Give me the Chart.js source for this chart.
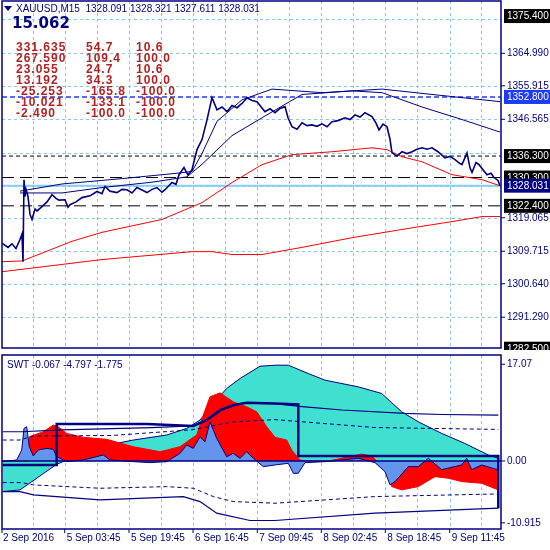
<!DOCTYPE html>
<html>
<head>
<meta charset="utf-8">
<script src="https://cdn.jsdelivr.net/npm/chart.js@4.4.1/dist/chart.umd.min.js"></script>
<style>
  body { margin: 0; background: #fff; }
  .pane { position: absolute; left: 0; width: 550px; }
  #top { top: 0; height: 350px; }
  #bot { top: 350px; height: 200px; }
</style>
</head>
<body>
<div class="pane" id="top"><canvas id="priceChart" width="550" height="350"></canvas></div>
<div class="pane" id="bot"><canvas id="swtChart" width="550" height="200"></canvas></div>
<script>
// =========================
// Data (x = bar offset along the time axis)
// =========================
const timeLabels = ["2 Sep 2016", "5 Sep 03:45", "5 Sep 19:45", "6 Sep 16:45", "7 Sep 09:45", "8 Sep 02:45", "8 Sep 18:45", "9 Sep 11:45"];
const timeLabelPos = [0, 62.7, 127, 191, 255.3, 319.3, 383.3, 447.7];
const timeGrid = [31, 62.7, 95, 127, 159.3, 191, 222.7, 255.3, 287, 319.3, 351, 383.3, 415.3, 447.7, 479.3];

const price = [[0,1312],[6,1310.8],[10,1311.8],[14,1310.5],[18,1313],[20,1314.5],[21,1306.8],[22,1329.7],[23,1325],[24,1327],[26,1325],[28,1320],[30,1318.6],[33,1321.5],[35,1321],[40,1322.2],[45,1323.5],[50,1325.5],[54,1324.5],[57,1324],[63,1324.1],[66,1322],[68,1322.7],[74,1323.5],[80,1324.7],[88,1325.2],[95,1326.4],[100,1325.8],[103,1327.8],[108,1326.5],[115,1326.1],[120,1327],[125,1326.9],[130,1326],[135,1327.5],[140,1326.8],[145,1326.1],[150,1327],[155,1327.5],[160,1326.2],[163,1326.9],[170,1328.9],[174,1328.4],[177,1331.1],[182,1333.1],[186,1331],[190,1332.5],[195,1338.1],[200,1340.9],[205,1346.4],[210,1352.6],[215,1349.2],[220,1350],[225,1348.7],[230,1350.4],[235,1349.8],[240,1351],[245,1352.6],[250,1351.8],[255,1351.5],[263,1348.7],[268,1349.5],[273,1348.4],[278,1349.6],[283,1350.1],[286,1347],[290,1344.5],[295,1343.8],[300,1345.6],[305,1344.8],[310,1345.0],[315,1344.6],[320,1345.3],[325,1344.5],[330,1345.9],[336,1346.2],[343,1347.0],[348,1346.5],[353,1347.8],[358,1347.2],[363,1348.4],[370,1347.3],[374,1345.5],[377,1343.6],[381,1345.2],[385,1344.5],[388,1341],[390,1337.2],[395,1336.3],[400,1337.5],[405,1337],[410,1337.5],[415,1338.2],[420,1338.6],[425,1338.2],[430,1338.6],[436,1337.5],[443,1335.8],[448,1336.2],[453,1335.3],[458,1334.2],[460,1333.9],[465,1337.2],[468,1333],[470,1331.7],[474,1334.5],[477,1333.9],[481,1332.5],[485,1331.1],[489,1331.5],[492,1330.3],[496,1329.5],[498,1328.0]];
const maFast = [[18,1326.5],[60,1328.5],[120,1330],[175,1331.5],[190,1332],[200,1337],[215,1346],[240,1352],[270,1355],[320,1354],[380,1355],[430,1353.5],[498,1351.5]];
const maSlow = [[18,1326],[60,1326],[100,1327.5],[150,1329],[185,1330.5],[200,1334],[230,1342],[260,1347],[300,1353.5],[350,1354.5],[380,1354],[420,1350],[460,1346.5],[498,1343]];
const redUpper = [[0,1306.8],[20,1307],[70,1312.5],[100,1315],[160,1318.6],[200,1323.3],[230,1328.9],[260,1333.9],[290,1336.7],[330,1337.5],[370,1338.6],[385,1338.1],[400,1336.1],[420,1334.7],[450,1331.1],[480,1329.7],[498,1328]];
const redLower = [[0,1304.0],[100,1307.4],[190,1309.6],[210,1309.6],[230,1308.8],[260,1308.8],[300,1310.8],[350,1313.5],[400,1315.8],[450,1318],[480,1319.4],[498,1319.4]];
const levelValues = [1352.8, 1336.3, 1330.3, 1328.031, 1322.4];
const priceTicks = [1364.990, 1355.915, 1346.565, 1319.065, 1309.715, 1300.640, 1291.290];
const priceGrid = [1374.6, 1364.99, 1355.915, 1346.565, 1337.215, 1327.865, 1319.065, 1309.715, 1300.64, 1291.29];
const boxedLabels = [[1375.4, "#000"], [1352.8, "#1e3cff"], [1336.3, "#000"], [1330.3, "#000"], [1328.031, "#000080"], [1322.4, "#000"], [1282.5, "#000"]];

const statRows = [
  ["331.635", "54.7", "10.6"],
  ["267.590", "109.4", "100.0"],
  ["23.055", "24.7", "10.6"],
  ["13.192", "34.3", "100.0"],
  ["-25.253", "-165.8", "-100.0"],
  ["-10.021", "-133.1", "-100.0"],
  ["-2.490", "-100.0", "-100.0"],
];

const swtBlue = [[0.7,-0.12],[14.7,0.18],[19.7,1.94],[22,5.75],[24.7,6.04],[27.3,2.52],[31.3,0.88],[36.3,1.94],[44.7,2.23],[51.3,2.05],[54.7,0.76],[64.7,-0.12],[81.3,0.18],[101.3,1.06],[108,0.18],[131.3,-0.12],[148,-0.29],[164.7,-0.12],[178,1.35],[184.7,2.82],[191.3,2.23],[198,4.28],[203,3.4],[208,6.92],[214.7,3.99],[224.7,0.76],[231.3,1.35],[238,0.47],[244.7,1.64],[251.3,0.47],[261.3,-1.0],[273,-0.7],[286.3,-0.41],[291.3,-2.17],[296.3,-2.17],[303,-0.29],[323,-0.12],[356.3,0.47],[373,-0.29],[383,-1.88],[388,-4.22],[393,-3.64],[406.3,-1.0],[416.3,-1.0],[426.3,0.47],[439.7,-1.53],[459.7,-0.7],[464.7,0.47],[469.7,-1.53],[479.7,-0.7],[496.3,-1.58]];
const swtRed = [[0.7,0],[25,0],[26.3,1.94],[27.3,4.28],[41.3,5.16],[51.3,6.34],[56.3,6.04],[64.7,4.87],[81.3,4.17],[104.7,3.82],[131.3,2.52],[158,1.64],[178,2.52],[189.7,3.99],[194.7,4.58],[201.3,8.1],[208,11.32],[218,12.02],[231.3,10.44],[244.7,9.56],[254.7,8.68],[264.7,6.04],[273,4.17],[284.7,3.7],[289.7,1.94],[298,0.18],[303,0],[326.3,0],[339.7,0.47],[359.7,1.23],[369.7,0.88],[374.7,0],[383,-0.7],[389.7,-4.52],[399.7,-5.1],[416.3,-4.52],[433,-2.76],[446.3,-3.05],[459.7,-3.64],[479.7,-3.93],[496.3,-5.1]];
const swtCyan = [[0.7,-5.4],[18,-5.1],[54.7,-0.58],[98,2.52],[131.3,3.7],[164.7,4.58],[184.7,5.75],[198,7.22],[211.3,10.15],[224.7,12.8],[238,14.55],[258,16.72],[273,16.9],[286.3,16.9],[306.3,15.43],[323,14.26],[356.3,13.08],[379.7,11.91],[399.7,8.68],[416.3,6.92],[439.7,4.87],[462.7,3.11],[486.3,1.06],[496.3,0.47]];
const swtStep = [[0.7,-0.7],[54.7,-0.7],[54.7,6.51],[144.7,6.51],[191.3,6.16],[204.7,7.22],[218,8.98],[231.3,9.86],[244.7,10.27],[273,10.15],[296.3,9.98],[296.3,0.88],[496.3,0.88],[496.3,-8.33]];
const swtUpper = [[0.7,5.16],[19.7,5.16],[60,5.5],[150,5.9],[190,6.2],[205,7.2],[220,9],[240,10.2],[273,10.1],[300,9.6],[340,9.0],[403,8.4],[440,8.2],[496.3,8.1]];
const swtUpperDash = [[0.7,3.7],[18,3.7],[31,4.4],[110,4.5],[190,5.5],[231,6.9],[273,7.3],[373,5.9],[496.3,5.57]];
const swtLowerDash = [[0.7,-3.81],[19.7,-3.81],[31.3,-4.22],[98,-4.81],[164.7,-4.52],[191.3,-4.81],[211.3,-6.28],[231.3,-7.16],[273,-7.45],[373,-6.28],[496.3,-5.81]];
const swtLower = [[0.7,-5.4],[18,-5.4],[31.3,-5.98],[98,-6.86],[181.3,-6.28],[198,-7.16],[214.7,-9.2],[248,-10.5],[273,-10.5],[373,-9.2],[496.3,-8.33]];
const swtTicks = [[17.07, "17.07"], [0, "0.00"], [-10.915, "-10.915"]];

const NAVY = "#000080";
const GRID = "#87c6ee";
const FONT = "10px 'Liberation Sans', Arial, sans-serif";

const pts = (arr) => arr.map(([x, y]) => ({ x, y }));
const flat = (v) => [{ x: 0, y: v }, { x: 499, y: v }];

function line(data, color, width, extra) {
  return Object.assign({ data: pts(data), borderColor: color, borderWidth: width, pointRadius: 0, tension: 0, fill: false }, extra || {});
}

// =========================
// Shared frame plugin (grid, border, right labels)
// =========================
function framePlugin(opts) {
  return {
    id: "frame",
    beforeDatasetsDraw(chart) {
      const { ctx, chartArea: a, scales } = chart;
      ctx.save();
      ctx.strokeStyle = GRID;
      ctx.lineWidth = 1;
      ctx.setLineDash([3, 3]);
      timeGrid.forEach((t) => {
        const x = Math.round(scales.x.getPixelForValue(t)) + 0.5;
        ctx.beginPath(); ctx.moveTo(x, a.top); ctx.lineTo(x, a.bottom); ctx.stroke();
      });
      (opts.hGrid || []).forEach((v) => {
        const y = Math.round(scales.y.getPixelForValue(v)) + 0.5;
        ctx.beginPath(); ctx.moveTo(a.left, y); ctx.lineTo(a.right, y); ctx.stroke();
      });
      ctx.restore();
    },
    afterDraw(chart) {
      const { ctx, chartArea: a, scales } = chart;
      ctx.save();
      ctx.strokeStyle = NAVY;
      ctx.lineWidth = 1.5;
      ctx.strokeRect(a.left, a.top, a.right - a.left, a.bottom - a.top);
      ctx.font = FONT;
      ctx.textBaseline = "middle";
      ctx.fillStyle = NAVY;
      ctx.lineWidth = 1;
      (opts.ticks || []).forEach(([v, txt]) => {
        const y = scales.y.getPixelForValue(v);
        ctx.beginPath(); ctx.moveTo(a.right, y); ctx.lineTo(a.right + 4, y); ctx.stroke();
        ctx.fillText(txt, a.right + 6, y);
      });
      (opts.boxes || []).forEach(([v, bg]) => {
        const y = scales.y.getPixelForValue(v);
        ctx.fillStyle = bg;
        ctx.fillRect(a.right + 3, y - 7, 46, 14);
        ctx.fillStyle = "#fff";
        ctx.fillText(v.toFixed(3), a.right + 6, y + 0.5);
      });
      if (opts.timeAxis) {
        ctx.fillStyle = NAVY;
        ctx.textBaseline = "top";
        timeLabels.forEach((txt, i) => {
          const x = scales.x.getPixelForValue(timeLabelPos[i]);
          ctx.beginPath(); ctx.moveTo(x, a.bottom); ctx.lineTo(x, a.bottom + 4); ctx.stroke();
          ctx.fillText(txt, x + (i === 0 ? 1 : 2), a.bottom + 4);
        });
      }
      if (opts.overlay) opts.overlay(ctx, a);
      ctx.restore();
    },
  };
}

function baseOptions(yMin, yMax, padding) {
  return {
    responsive: false,
    animation: false,
    layout: { padding },
    plugins: { legend: { display: false }, tooltip: { enabled: false } },
    scales: {
      x: { type: "linear", min: 0, max: 499, display: false },
      y: { type: "linear", min: yMin, max: yMax, display: false },
    },
  };
}

// =========================
// Price panel
// =========================
function renderPriceChart() {
  const ctx = document.getElementById("priceChart").getContext("2d");
  new Chart(ctx, {
    type: "line",
    data: {
      datasets: [
        line(price, NAVY, 1.6),
        line(maFast, NAVY, 1),
        line(maSlow, NAVY, 1),
        line(redUpper, "#ff0000", 1),
        line(redLower, "#ff0000", 1),
        { data: flat(levelValues[0]), borderColor: "#1e3cff", borderWidth: 1.5, borderDash: [5, 3], pointRadius: 0 },
        { data: flat(levelValues[1]), borderColor: "#000", borderWidth: 1, borderDash: [4, 3], pointRadius: 0 },
        { data: flat(levelValues[2]), borderColor: "#000", borderWidth: 1, borderDash: [12, 6], pointRadius: 0 },
        { data: flat(levelValues[3]), borderColor: "#87cefa", borderWidth: 2, pointRadius: 0 },
        { data: flat(levelValues[4]), borderColor: "#000", borderWidth: 1, borderDash: [12, 6], pointRadius: 0 },
      ],
    },
    options: baseOptions(1282.7, 1379.6, { left: 2, right: 49, top: 1, bottom: 2 }),
    plugins: [framePlugin({
      hGrid: priceGrid,
      ticks: priceTicks.map((v) => [v, v.toFixed(3)]),
      boxes: boxedLabels,
      overlay(c, a) {
        c.fillStyle = NAVY;
        c.beginPath(); c.moveTo(4, 6); c.lineTo(12, 6); c.lineTo(8, 11); c.closePath(); c.fill();
        c.font = FONT;
        c.textBaseline = "middle";
        c.fillText("XAUUSD,M15  1328.091 1328.321 1327.611 1328.031", 16, 9);
        c.font = "bold 15px 'DejaVu Sans', sans-serif";
        c.textBaseline = "top";
        c.fillText("15.062", 12, 17);
        c.font = "bold 12px 'Liberation Sans', Arial, sans-serif";
        c.letterSpacing = "1px";
        c.fillStyle = "#b22222";
        statRows.forEach((row, i) => {
          const y = 42 + i * 10.9;
          c.fillText(row[0], 16, y);
          c.fillText(row[1], 86, y);
          c.fillText(row[2], 136, y);
        });
        c.letterSpacing = "0px";
      },
    })],
  });
}

// =========================
// SWT panel
// =========================
function renderSwtChart() {
  const ctx = document.getElementById("swtChart").getContext("2d");
  new Chart(ctx, {
    type: "line",
    data: {
      datasets: [
        line([[0, 0], [499, 0]], NAVY, 1.5, { order: 0 }),
        line(swtStep, NAVY, 2.5, { order: 0 }),
        line(swtUpper, NAVY, 1.2, { order: 0 }),
        line(swtLower, NAVY, 1.2, { order: 0 }),
        line(swtUpperDash, NAVY, 1, { order: 0, borderDash: [4, 3] }),
        line(swtLowerDash, NAVY, 1, { order: 0, borderDash: [4, 3] }),
        line(swtBlue, NAVY, 1, { order: 1, fill: "origin", backgroundColor: "#6495ed" }),
        line(swtRed, "#ff0000", 1, { order: 2, fill: "origin", backgroundColor: "#ff0000" }),
        line(swtCyan, NAVY, 1, { order: 3, fill: "origin", backgroundColor: "#40e0d0" }),
      ],
    },
    options: baseOptions(-12.0, 18.7, { left: 2, right: 49, top: 5, bottom: 21 }),
    plugins: [framePlugin({
      ticks: swtTicks,
      timeAxis: true,
      overlay(c, a) {
        c.fillStyle = NAVY;
        c.font = FONT;
        c.textBaseline = "top";
        c.fillText("SWT -0.067 -4.797 -1.775", 7, a.top + 5);
      },
    })],
  });
}

renderPriceChart();
renderSwtChart();
</script>
</body>
</html>
